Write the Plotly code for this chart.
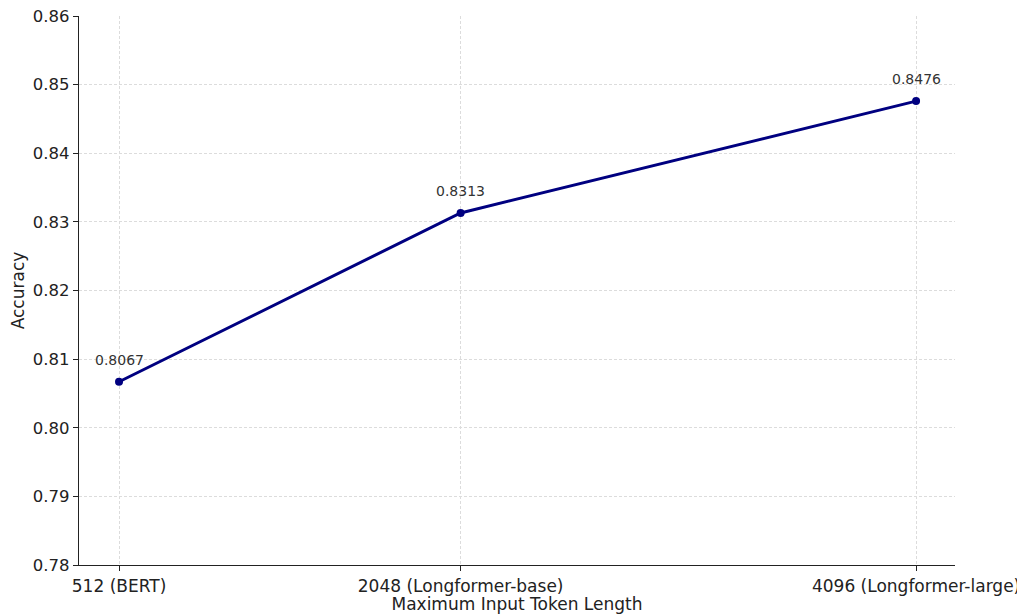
import plotly.graph_objects as go

token_lengths = [512, 2048, 4096]
tick_labels = ["512 (BERT)", "2048 (Longformer-base)", "4096 (Longformer-large)"]
accuracy = [0.8067, 0.8313, 0.8476]
y_ticks = [0.78, 0.79, 0.80, 0.81, 0.82, 0.83, 0.84, 0.85, 0.86]

fig = go.Figure()
fig.add_trace(go.Scatter(
    x=token_lengths, y=accuracy, mode="lines+markers",
    line=dict(color="#000080", width=3),
    marker=dict(color="#000080", size=8),
    showlegend=False, cliponaxis=False,
))
for x, y in zip(token_lengths, accuracy):
    fig.add_annotation(x=x, y=y, text=f"{y:.4f}", showarrow=False,
                       yshift=22, font=dict(size=14, color="#333333"))

axis_common = dict(
    showline=True, linecolor="#222222", linewidth=1.3, mirror=False,
    ticks="outside", ticklen=5, tickcolor="#222222", automargin=False,
    ticklabeloverflow="allow",
    showgrid=True, gridcolor="#dcdcdc", griddash="3px,2px", gridwidth=0.8,
    zeroline=False,
)
fig.update_xaxes(**axis_common, range=[332, 4271], tickmode="array",
                 tickvals=token_lengths, ticktext=tick_labels,
                 tickfont=dict(size=17, color="#222222"),
                 title=dict(text="Maximum Input Token Length", font=dict(size=17, color="#222222"), standoff=2))
fig.update_yaxes(**axis_common, range=[0.78, 0.86], tickmode="array",
                 tickvals=y_ticks, ticktext=[f"{v:.2f}" for v in y_ticks],
                 tickfont=dict(size=16.5, color="#222222"),
                 title=dict(text="Accuracy", font=dict(size=17, color="#222222"), standoff=6))
# page body has an 8px default margin; compensate so the plot area lands at (79..955, 16..565)
fig.update_layout(
    width=1017, height=606,
    margin=dict(l=71, r=70, t=8, b=49),
    plot_bgcolor="white", paper_bgcolor="white",
    font=dict(family="DejaVu Sans"),
)
fig.write_html("out.html")
